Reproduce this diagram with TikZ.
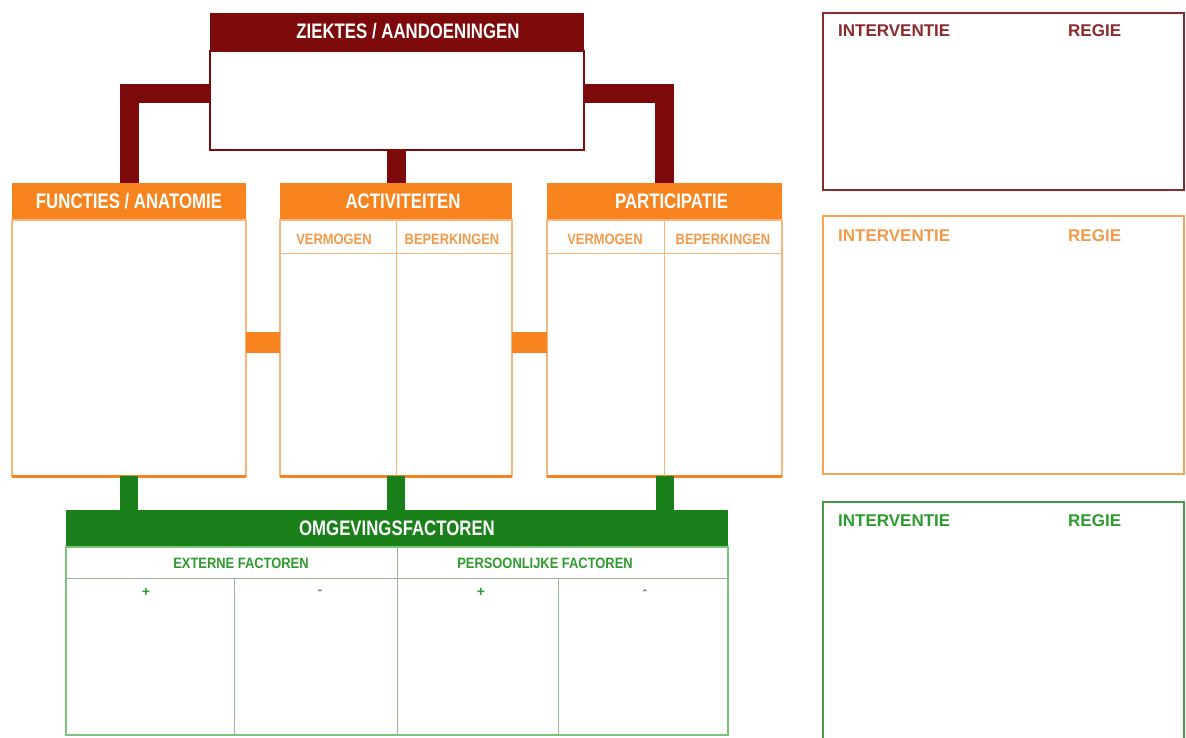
\documentclass[tikz,border=0pt]{standalone}
\usepackage{fontspec}
\setmainfont{Liberation Sans}
\newfontfamily\hfont[FakeStretch=0.8]{Liberation Sans}
\newfontfamily\sfontn[FakeStretch=0.86]{Liberation Sans}
\definecolor{mred}{HTML}{7D0A0A}
\definecolor{mredline}{HTML}{8B2A2A}
\definecolor{orng}{HTML}{F7841E}
\definecolor{orngl}{HTML}{F9B57C}
\definecolor{orngt}{HTML}{F39A4A}
\definecolor{grn}{HTML}{1A801A}
\definecolor{grnl}{HTML}{7CC47C}
\definecolor{grnt}{HTML}{2E9B2E}
\definecolor{gsep}{HTML}{9DB59D}
\tikzset{
  hdr/.style={rectangle, fill=#1, text=white, font=\hfont\bfseries\fontsize{21}{24}\selectfont,
    minimum height=37pt, inner sep=0pt, outer sep=0pt, anchor=north west},
  bodybox/.style={rectangle, draw=#1, fill=white, inner sep=0pt, outer sep=0pt, anchor=north west},
  osub/.style={text=orngt, font=\sfontn\bfseries\fontsize{15}{18}\selectfont, inner sep=0pt},
  gsub/.style={text=grnt, font=\sfontn\bfseries\fontsize{15}{18}\selectfont, inner sep=0pt},
  sign/.style={font=\fontsize{14}{16}\selectfont\bfseries, inner sep=0pt},
  rbox/.style={rectangle, draw=#1, line width=2pt, inner sep=0pt, outer sep=0pt, anchor=north west},
  rlab/.style={text=#1, font=\bfseries\fontsize{17}{20}\selectfont, inner sep=0pt, anchor=west},
  mbar/.style={draw=mred, line width=19pt, line join=miter},
  gbar/.style={draw=grn, line width=18pt},
  olink/.style={draw=orng, line width=21pt},
  osep/.style={draw=orngl, line width=1pt},
  gline/.style={draw=gsep, line width=1pt},
}
\begin{document}
\begin{tikzpicture}[x=1pt,y=-1pt]
\useasboundingbox (0,0) rectangle (1186,738);
% ---------- ZIEKTES ----------
\node[hdr=mred, minimum width=374pt] (zh) at (210,13) {\hspace*{22pt}ZIEKTES / AANDOENINGEN};
\node[bodybox=mred, line width=2pt, minimum width=374pt, minimum height=99pt] (zb) at (210,51) {};
% ---------- orange boxes ----------
\node[hdr=orng, minimum width=234pt] (fh) at (12,183) {FUNCTIES / ANATOMIE};
\node[bodybox=orngl, line width=1.2pt, minimum width=234pt, minimum height=256pt] (fb) at (12,220) {};
\node[hdr=orng, minimum width=232pt] (ah) at (280,183) {\hspace*{14pt}ACTIVITEITEN};
\node[bodybox=orngl, line width=1.2pt, minimum width=232pt, minimum height=256pt] (ab) at (280,220) {};
\node[hdr=orng, minimum width=235pt] (ph) at (547,183) {\hspace*{14pt}PARTICIPATIE};
\node[bodybox=orngl, line width=1.2pt, minimum width=235pt, minimum height=256pt] (pb) at (547,220) {};
% thick bottoms
\foreach \b in {fb,ab,pb} \draw[orng, line width=3pt] (\b.south west) -- (\b.south east);
% sub-rows
\draw[osep] (ab.west |- 0,253) -- (ab.east |- 0,253);
\draw[osep] (ab.north) -- (ab.south);
\draw[osep] (pb.west |- 0,253) -- (pb.east |- 0,253);
\draw[osep] (pb.north) -- (pb.south);
\node[osub] (av) at (334,239) {VERMOGEN};
\node[osub] (abp) at (452,239) {BEPERKINGEN};
\node[osub] (pv) at (605,239) {VERMOGEN};
\node[osub] (pbp) at (723,239) {BEPERKINGEN};
% ---------- maroon connectors ----------
\draw[mbar] (zb.west |- 0,94) -| (fh.north);
\draw[mbar] (zb.east |- 0,94) -| (ph.north);
\draw[mbar] (zb.south -| ah.north) -- (ah.north);
% ---------- orange links ----------
\draw[olink] (fb.east |- 0,342) -- (ab.west |- 0,342);
\draw[olink] (ab.east |- 0,342) -- (pb.west |- 0,342);
% ---------- green box ----------
\node[hdr=grn, minimum width=662pt] (gh) at (66,510) {OMGEVINGSFACTOREN};
\node[bodybox=grnl, line width=1.2pt, minimum width=662pt, minimum height=188pt] (gb) at (66,547) {};
\draw[gline] (gb.west |- 0,578) -- (gb.east |- 0,578);
\draw[gline] (gb.north) -- (gb.south);
\coordinate (q1) at (234,578);
\coordinate (q2) at (558,578);
\draw[gline] (q1) -- (q1 |- gb.south);
\draw[gline] (q2) -- (q2 |- gb.south);
\node[gsub] (ext) at (241,563) {EXTERNE FACTOREN};
\node[gsub] (pers) at (545,563) {PERSOONLIJKE FACTOREN};
\node[sign, text=grnt] (p1) at (146,592) {+};
\node[sign, text=gray] (m1) at (320,592) {-};
\node[sign, text=grnt] (p2) at (481,592) {+};
\node[sign, text=gray] (m2) at (645,592) {-};
% ---------- green connectors ----------
\draw[gbar] (fb.south) -- (fb.south |- gh.north);
\draw[gbar] (ab.south) -- (ab.south |- gh.north);
\draw[gbar] (pb.south) -- (pb.south |- gh.north);
% ---------- right boxes ----------
\node[rbox=mredline, minimum width=361pt, minimum height=177pt] (r1) at (823,13) {};
\node[rlab=mredline] (i1) at (838,31) {INTERVENTIE};
\node[rlab=mredline] (g1) at (1068,31) {REGIE};
\node[rbox=orng!75, minimum width=361pt, minimum height=258pt] (r2) at (823,216) {};
\node[rlab=orngt] (i2) at (838,236) {INTERVENTIE};
\node[rlab=orngt] (g2) at (1068,236) {REGIE};
\node[rbox=grn!80, minimum width=361pt, minimum height=240pt] (r3) at (823,502) {};
\node[rlab=grnt] (i3) at (838,521) {INTERVENTIE};
\node[rlab=grnt] (g3) at (1068,521) {REGIE};
\end{tikzpicture}
\end{document}
